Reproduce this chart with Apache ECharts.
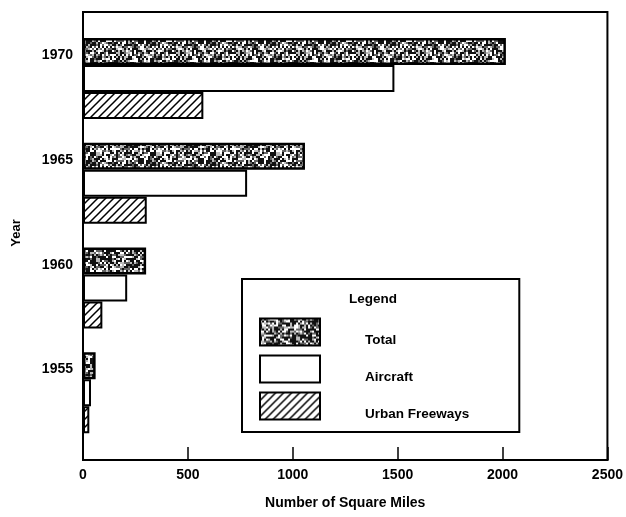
<!DOCTYPE html>
<html>
<head>
<meta charset="utf-8">
<script src="https://cdn.jsdelivr.net/npm/echarts@6/dist/echarts.min.js"></script>
<style>html,body{margin:0;padding:0;background:#fff;}#c{width:626px;height:517px;}</style>
</head>
<body>
<div id="c"></div>
<script>
var years = ['1970', '1965', '1960', '1955'];
var totalValues = [2010, 1055, 300, 60];
var aircraftValues = [1480, 780, 210, 38];
var freewayValues = [572, 303, 92, 30];
var xTicks = [0, 500, 1000, 1500, 2000, 2500];
var seriesNames = ['Total', 'Aircraft', 'Urban Freeways'];

function stipple() {
  var n = 60;
  var c = document.createElement('canvas');
  c.width = n; c.height = n;
  var ctx = c.getContext('2d');
  ctx.fillStyle = '#ffffff';
  ctx.fillRect(0, 0, n, n);
  for (var y = 0; y < n; y += 2) {
    for (var x = 0; x < n; x += 2) {
      var h = ((x * 73856093) ^ (y * 19349663) ^ ((x + 3 * y) * 83492791)) >>> 0;
      h = Math.imul(h ^ (h >>> 13), 1274126177) >>> 0;
      h = (h ^ (h >>> 16)) >>> 0;
      var v = (h % 1000) / 1000;
      if (v < 0.40) ctx.fillStyle = '#111';
      else if (v < 0.58) ctx.fillStyle = '#666';
      else if (v < 0.72) ctx.fillStyle = '#bbb';
      else ctx.fillStyle = '#fff';
      ctx.fillRect(x, y, 2, 2);
    }
  }
  return c;
}
function hatch() {
  var c = document.createElement('canvas');
  c.width = 8; c.height = 8;
  var ctx = c.getContext('2d');
  ctx.fillStyle = '#fff';
  ctx.fillRect(0, 0, 8, 8);
  ctx.strokeStyle = '#000';
  ctx.lineWidth = 1.5;
  ctx.beginPath();
  ctx.moveTo(-1, 9); ctx.lineTo(9, -1);
  ctx.moveTo(-5, 5); ctx.lineTo(5, -5);
  ctx.moveTo(3, 13); ctx.lineTo(13, 3);
  ctx.stroke();
  return c;
}
var stipplePat = { image: stipple(), repeat: 'repeat' };
var hatchPat = { image: hatch(), repeat: 'repeat' };

var font = '"Liberation Sans", Arial, sans-serif';
var chart = echarts.init(document.getElementById('c'), null, { renderer: 'canvas' });
var barW = 27;
chart.setOption({
  animation: false,
  backgroundColor: '#fff',
  title: {
    text: 'Legend', left: 344, top: 287,
    textStyle: { fontFamily: font, fontSize: 13.5, fontWeight: 'bold', color: '#000' }
  },
  legend: {
    orient: 'vertical', left: 242, top: 279,
    padding: [38, 50, 11, 17],
    itemWidth: 60, itemHeight: 27, itemGap: 7,
    backgroundColor: '#fff', borderColor: '#000', borderWidth: 2,
    icon: 'rect',
    data: seriesNames,
    formatter: function (name) { return '{s| }\n{t|' + name + '}'; },
    textStyle: { fontFamily: font, fontSize: 13.5, fontWeight: 'bold', color: '#000', padding: [0, 0, 0, 40],
      rich: {
        s: { fontSize: 13.5, lineHeight: 16 },
        t: { fontFamily: font, fontSize: 13.5, fontWeight: 'bold', color: '#000', lineHeight: 16 }
      } }
  },
  grid: [
    { left: 83, right: 17, top: 26, bottom: 72 },
    { left: 83, right: 17, top: 12, bottom: 57, show: true, borderColor: '#000', borderWidth: 2, backgroundColor: 'transparent' }
  ],
  xAxis: [
    { gridIndex: 0, type: 'value', min: 0, max: 2500, interval: 500, show: false },
    { gridIndex: 1, type: 'value', min: 0, max: 2500, interval: 500,
      name: 'Number of Square Miles', nameLocation: 'middle', nameGap: 36,
      nameTextStyle: { fontFamily: font, fontSize: 14, fontWeight: 'bold', color: '#000' },
      axisLine: { show: true, lineStyle: { color: '#000', width: 2 } },
      axisTick: { show: true, inside: true, length: 13, lineStyle: { color: '#000', width: 1.5 } },
      axisLabel: { fontFamily: font, fontSize: 14, fontWeight: 'bold', color: '#000', margin: 8,
        formatter: function (v) { return xTicks.indexOf(v) >= 0 ? String(v) : ''; } },
      splitLine: { show: false } }
  ],
  yAxis: [
    { gridIndex: 0, type: 'category', data: years, inverse: true,
      axisLine: { show: false }, axisTick: { show: false }, splitLine: { show: false },
      axisLabel: { fontFamily: font, fontSize: 14, fontWeight: 'bold', color: '#000', margin: 10,
        lineHeight: 14,
        formatter: function (v) { return v + '\n{s| }'; },
        rich: { s: { lineHeight: 46, fontSize: 14 } } } },
    { gridIndex: 1, type: 'value', min: 0, max: 1,
      name: 'Year', nameLocation: 'middle', nameGap: 60, nameRotate: 90,
      nameTextStyle: { fontFamily: font, fontSize: 13, fontWeight: 'bold', color: '#000', padding: [0, 0, 0, 6] },
      axisLine: { show: true, lineStyle: { color: '#000', width: 2 } },
      axisTick: { show: false }, axisLabel: { show: false }, splitLine: { show: false } }
  ],
  series: [
    { name: 'Total', type: 'bar', xAxisIndex: 0, yAxisIndex: 0, data: totalValues,
      barWidth: barW, barGap: '0%',
      itemStyle: { color: stipplePat, borderColor: '#000', borderWidth: 2.5 } },
    { name: 'Aircraft', type: 'bar', xAxisIndex: 0, yAxisIndex: 0, data: aircraftValues,
      barWidth: barW, barGap: '0%',
      itemStyle: { color: '#fff', borderColor: '#000', borderWidth: 2 } },
    { name: 'Urban Freeways', type: 'bar', xAxisIndex: 0, yAxisIndex: 0, data: freewayValues,
      barWidth: barW, barGap: '0%',
      itemStyle: { color: hatchPat, borderColor: '#000', borderWidth: 2 } }
  ]
});
</script>
</body>
</html>
